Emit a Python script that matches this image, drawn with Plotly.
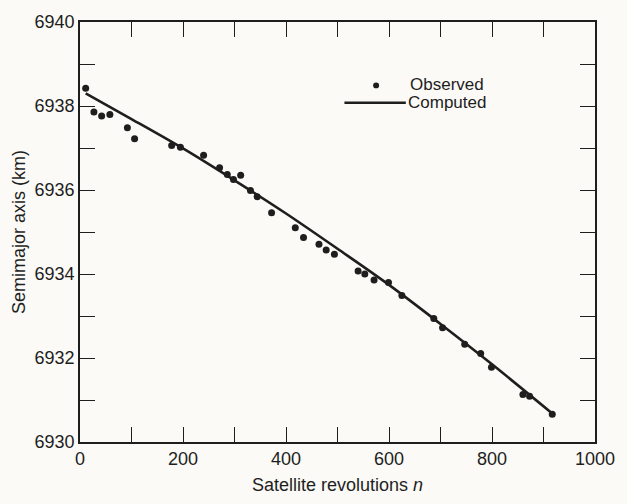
import plotly.graph_objects as go

# Observed data (satellite revolutions n, semimajor axis km)
obs_n = [11, 27, 42, 58, 92, 106, 178, 195, 240, 271, 286, 298, 312, 331, 344,
         372, 418, 434, 464, 478, 494, 540, 553, 571, 599, 625, 687, 704, 747,
         778, 799, 860, 873, 917]
obs_a = [6938.42, 6937.86, 6937.76, 6937.80, 6937.48, 6937.22, 6937.06, 6937.02,
         6936.83, 6936.53, 6936.37, 6936.25, 6936.35, 6935.99, 6935.84, 6935.46,
         6935.10, 6934.87, 6934.71, 6934.57, 6934.47, 6934.07, 6934.00, 6933.86,
         6933.80, 6933.49, 6932.94, 6932.72, 6932.33, 6932.11, 6931.78, 6931.13,
         6931.09, 6930.66]

# Computed curve
comp_n = [11, 100, 200, 300, 400, 500, 600, 700, 800, 917]
comp_a = [6938.30, 6937.69, 6936.99, 6936.23, 6935.44, 6934.60, 6933.74, 6932.81,
          6931.85, 6930.68]

x_ticks = list(range(0, 1001, 100))
x_labels = ["0", "", "200", "", "400", "", "600", "", "800", "", "1000"]
y_ticks = list(range(6930, 6941))
y_labels = ["6930", "", "6932", "", "6934", "", "6936", "", "6938", "", "6940"]

ink = "#1e1e1e"
bg = "#fbfaf6"
font = "Liberation Sans, Arial, sans-serif"

fig = go.Figure()
fig.add_trace(go.Scatter(x=comp_n, y=comp_a, mode="lines",
                         line=dict(color=ink, width=2.6, shape="spline"),
                         name="Computed", showlegend=False))
fig.add_trace(go.Scatter(x=obs_n, y=obs_a, mode="markers",
                         marker=dict(color=ink, size=7),
                         name="Observed", showlegend=False))

axis_common = dict(
    showgrid=False, zeroline=False, showline=True, linecolor=ink, linewidth=1.6,
    mirror="ticks", ticks="inside", ticklen=15, tickwidth=1.4, tickcolor=ink,
    tickfont=dict(family=font, size=18, color=ink),
)
fig.update_xaxes(range=[0, 1000], tickvals=x_ticks, ticktext=x_labels,
                 title=dict(text="Satellite revolutions <i>n</i>",
                            font=dict(family=font, size=18, color=ink), standoff=10),
                 **axis_common)
fig.update_yaxes(range=[6930, 6940], tickvals=y_ticks, ticktext=y_labels,
                 title=dict(text="Semimajor axis (km)",
                            font=dict(family=font, size=18, color=ink), standoff=4),
                 **axis_common)

# manual legend
fig.add_shape(type="circle", xref="paper", yref="paper",
              x0=(379 - 3 - 80) / 520, x1=(379 + 3 - 80) / 520,
              y0=(452 - 81 - 3) / 437, y1=(452 - 81 + 3) / 437,
              fillcolor=ink, line=dict(width=0))
fig.add_shape(type="line", xref="paper", yref="paper",
              x0=(347 - 80) / 520, x1=(409 - 80) / 520,
              y0=(452 - 99) / 437, y1=(452 - 99) / 437,
              line=dict(color=ink, width=2.6))
fig.add_annotation(text="Observed", xref="paper", yref="paper",
                   x=(411 - 80) / 520, y=(452 - 80) / 437, xanchor="left",
                   yanchor="middle", showarrow=False,
                   font=dict(family=font, size=17, color=ink))
fig.add_annotation(text="Computed", xref="paper", yref="paper",
                   x=(409 - 80) / 520, y=(452 - 99) / 437, xanchor="left",
                   yanchor="middle", showarrow=False,
                   font=dict(family=font, size=17, color=ink))

fig.update_layout(width=627, height=504,
                  margin=dict(l=80, r=27, t=15, b=52),
                  paper_bgcolor=bg, plot_bgcolor=bg, showlegend=False)

fig.write_html("out.html")
